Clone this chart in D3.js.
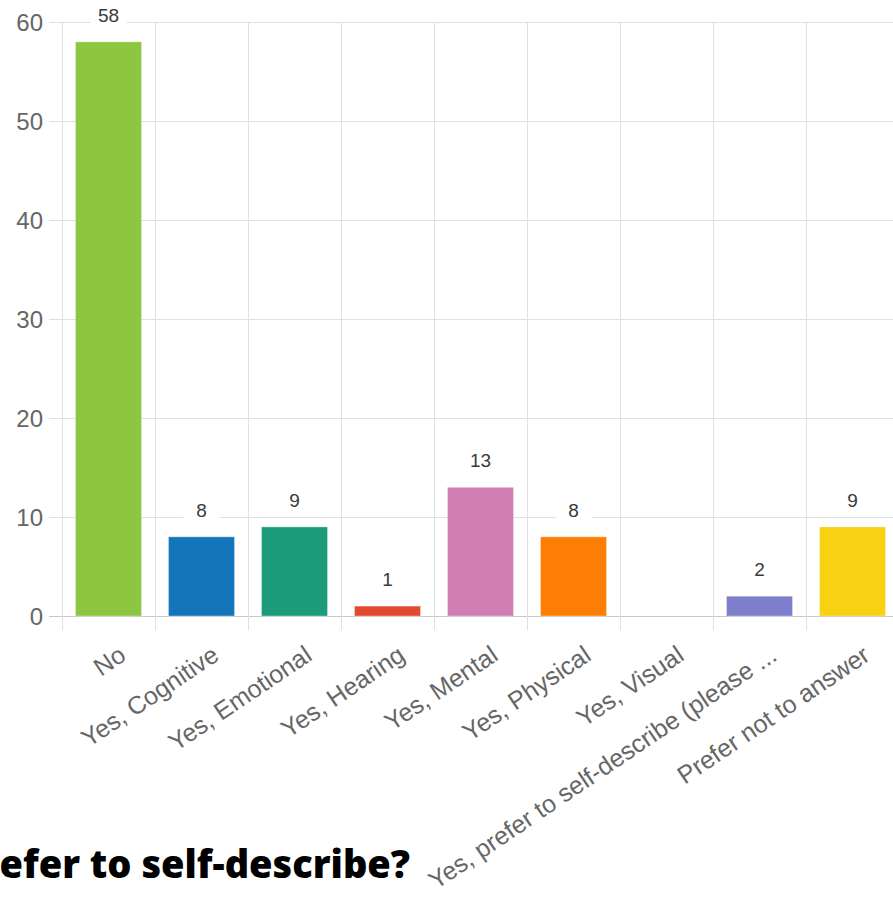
<!DOCTYPE html>
<html lang="en">
  <head>
    <meta charset="UTF-8" />
    <title>Disability chart</title>
    <script src="https://d3js.org/d3.v7.min.js"></script>
    <style>
      body { margin: 0; background: #fff; }
      svg { display: block; }
      .grid line { stroke: #e0e0e0; shape-rendering: crispEdges; }
    </style>
  </head>
  <body>
    <svg width="893" height="898"></svg>
    <script>
      // data
      var categories = [
        "No",
        "Yes, Cognitive",
        "Yes, Emotional",
        "Yes, Hearing",
        "Yes, Mental",
        "Yes, Physical",
        "Yes, Visual",
        "Yes, prefer to self-describe (please ...",
        "Prefer not to answer"
      ];
      var counts = [58, 8, 9, 1, 13, 8, 0, 2, 9];
      var colors = ["#8dc641", "#1575ba", "#1b9b7a", "#e2492e", "#cf7fb4", "#fd7e05", "#3aa6d9", "#7e7ecd", "#f8d112"];
      var yTicks = [0, 10, 20, 30, 40, 50, 60];
      var titleText = "efer to self-describe?";

      var font = "'Liberation Sans', Arial, Helvetica, sans-serif";

      var data = categories.map(function (c, i) {
        return { name: c, count: counts[i], color: colors[i] };
      });

      var svg = d3.select("svg");

      var x = d3.scaleBand().domain(categories).range([62, 899]).padding(0);
      var y = d3.scaleLinear().domain([0, 60]).range([616, 22]);
      var barW = x.bandwidth() * 0.71;

      // horizontal grid
      svg.append("g")
        .attr("class", "grid")
        .selectAll("line")
        .data(yTicks)
        .enter()
        .append("line")
        .attr("x1", 49)
        .attr("x2", 893)
        .attr("y1", function (d) { return Math.round(y(d)) + 0.5; })
        .attr("y2", function (d) { return Math.round(y(d)) + 0.5; })
        .style("stroke", function (d) { return d === 0 ? "#c8c8c8" : "#e0e0e0"; });

      // vertical grid at band edges
      svg.append("g")
        .attr("class", "grid")
        .selectAll("line")
        .data(categories)
        .enter()
        .append("line")
        .attr("x1", function (d) { return Math.round(x(d)) + 0.5; })
        .attr("x2", function (d) { return Math.round(x(d)) + 0.5; })
        .attr("y1", y(60))
        .attr("y2", 630);

      // y tick labels
      svg.append("g")
        .selectAll("text")
        .data(yTicks)
        .enter()
        .append("text")
        .attr("x", 43)
        .attr("y", function (d) { return y(d); })
        .attr("dy", "0.36em")
        .attr("text-anchor", "end")
        .attr("font-family", font)
        .attr("font-size", "24px")
        .attr("fill", "#666")
        .text(function (d) { return d; });

      // bars
      svg.append("g")
        .selectAll("rect")
        .data(data.filter(function (d) { return d.count > 0; }))
        .enter()
        .append("rect")
        .attr("x", function (d) { return x(d.name) + (x.bandwidth() - barW) / 2; })
        .attr("y", function (d) { return y(d.count); })
        .attr("width", barW)
        .attr("height", function (d) { return y(0) - y(d.count); })
        .attr("fill", function (d) { return d.color; })
        .attr("stroke", "#fff")
        .attr("stroke-opacity", 0.35)
        .attr("stroke-width", 1);

      // value labels with white backing
      var lab = svg.append("g")
        .selectAll("g")
        .data(data.filter(function (d) { return d.count > 0; }))
        .enter()
        .append("g")
        .attr("transform", function (d) {
          return "translate(" + (x(d.name) + x.bandwidth() / 2) + "," + (y(d.count) - 20) + ")";
        });

      lab.append("rect")
        .attr("x", -18)
        .attr("y", -18)
        .attr("width", 36)
        .attr("height", 24)
        .attr("fill", "#fff");

      lab.append("text")
        .attr("text-anchor", "middle")
        .attr("font-family", font)
        .attr("font-size", "19px")
        .attr("fill", "#3a3a3a")
        .text(function (d) { return d.count; });

      // x labels, rotated
      svg.append("g")
        .selectAll("text")
        .data(categories)
        .enter()
        .append("text")
        .attr("transform", function (d) {
          return "translate(" + (x(d) + x.bandwidth() / 2 + 19) + ",659) rotate(-34)";
        })
        .attr("text-anchor", "end")
        .attr("font-family", font)
        .attr("font-size", "25px")
        .attr("fill", "#666")
        .text(function (d) { return d; });

      // title fragment at the bottom
      svg.append("text")
        .attr("x", 410)
        .attr("y", 878)
        .attr("text-anchor", "end")
        .attr("font-family", "'Open Sans', sans-serif")
        .attr("font-weight", 800)
        .attr("font-size", "38px")
        .attr("fill", "#000")
        .text(titleText);
    </script>
  </body>
</html>
